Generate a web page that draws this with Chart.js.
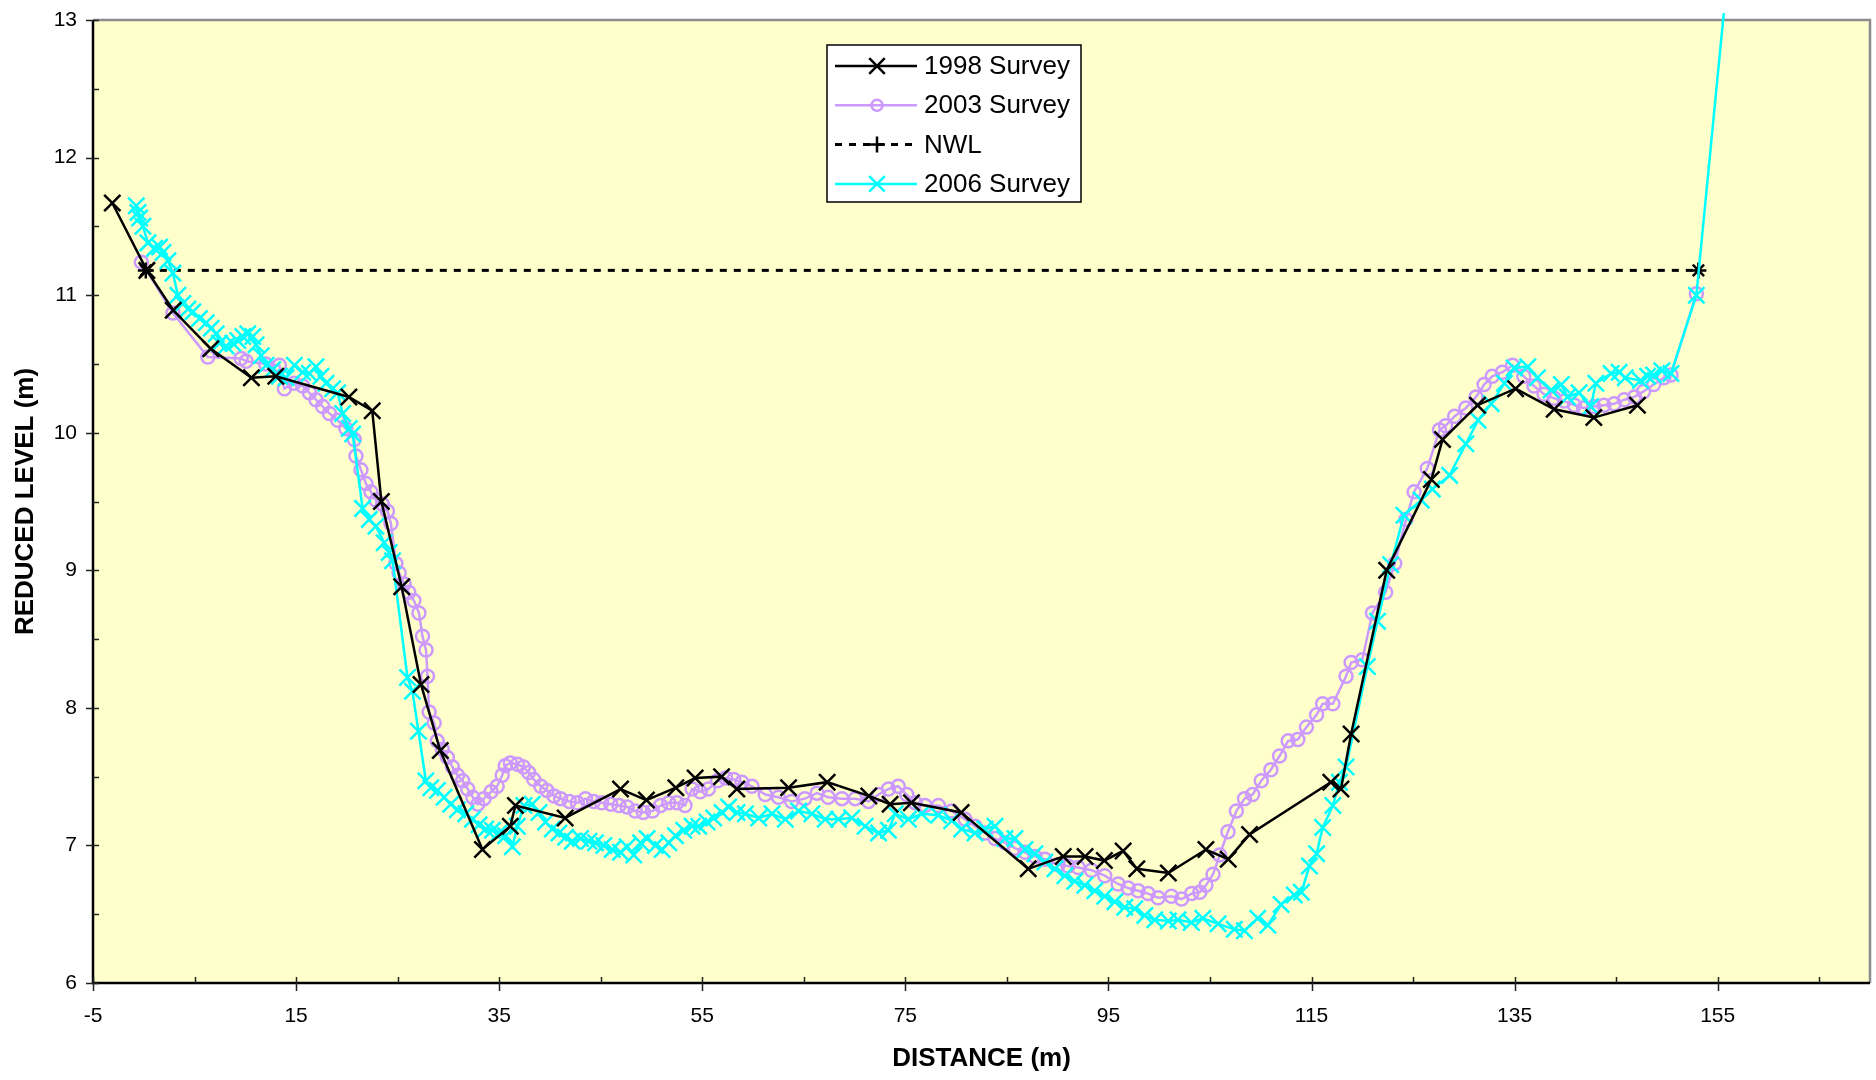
<!DOCTYPE html>
<html>
<head>
<meta charset="utf-8">
<title>Cross section surveys</title>
<script src="https://cdn.jsdelivr.net/npm/chart.js@4.4.1/dist/chart.umd.min.js"></script>
<style>
  html, body { margin: 0; padding: 0; background: #ffffff; }
  #wrap { width: 1876px; height: 1080px; }
</style>
</head>
<body>
<div id="wrap"><canvas id="chartSection" width="1876" height="1080"></canvas></div>
<script>
// [distance (m), reduced level (m)]
const SURVEY_1998 = [
  [-3.1, 11.67], [0.3, 11.18], [2.9, 10.89], [6.6, 10.61], [10.6, 10.40], [13.0, 10.41],
  [20.2, 10.26], [22.5, 10.16], [23.4, 9.50], [25.4, 8.88], [27.3, 8.17], [29.2, 7.69],
  [33.35, 6.97], [36.1, 7.14], [36.6, 7.29], [41.5, 7.20], [46.95, 7.41], [49.5, 7.33],
  [52.4, 7.42], [54.3, 7.49], [56.9, 7.50], [58.4, 7.41], [63.5, 7.42], [67.3, 7.46],
  [71.4, 7.36], [73.5, 7.30], [75.6, 7.31], [80.5, 7.24], [87.1, 6.83], [90.55, 6.92],
  [92.7, 6.92], [94.6, 6.89], [96.45, 6.96], [97.8, 6.83], [100.9, 6.80], [104.6, 6.97],
  [106.8, 6.90], [108.9, 7.08], [116.9, 7.46], [117.9, 7.41], [118.9, 7.81], [122.4, 9.00],
  [126.8, 9.66], [127.9, 9.95], [131.35, 10.20], [135.1, 10.32], [138.9, 10.17],
  [142.8, 10.11], [147.1, 10.20]
];

const SURVEY_2003 = [
  [-0.24, 11.24], [2.87, 10.87], [6.31, 10.55], [9.59, 10.54], [10.08, 10.52], [12.0, 10.50],
  [13.36, 10.49], [13.85, 10.32], [14.8, 10.36], [15.65, 10.34], [16.31, 10.29], [16.96, 10.24],
  [17.62, 10.19], [18.28, 10.14], [19.1, 10.09], [19.9, 10.03], [20.73, 9.95], [20.9, 9.83],
  [21.39, 9.73], [21.88, 9.63], [22.37, 9.57], [22.86, 9.51], [23.5, 9.48], [24.0, 9.43],
  [24.34, 9.34], [24.83, 9.05], [25.15, 8.98], [25.64, 8.90], [26.1, 8.84], [26.6, 8.78],
  [27.1, 8.69], [27.45, 8.52], [27.8, 8.42], [27.94, 8.23], [28.1, 7.97], [28.6, 7.89],
  [28.9, 7.76], [29.4, 7.70], [29.9, 7.64], [30.4, 7.57], [30.9, 7.51], [31.4, 7.47],
  [31.9, 7.41], [32.4, 7.35], [32.9, 7.30], [33.5, 7.34], [34.2, 7.39], [34.8, 7.43],
  [35.3, 7.51], [35.6, 7.58], [36.1, 7.60], [36.8, 7.59], [37.4, 7.57], [37.9, 7.53],
  [38.4, 7.48], [39.1, 7.43], [39.7, 7.40], [40.4, 7.36], [41.05, 7.34], [41.9, 7.32],
  [42.7, 7.31], [43.5, 7.34], [44.3, 7.32], [45.1, 7.31], [46.0, 7.30], [46.8, 7.29],
  [47.6, 7.28], [48.4, 7.25], [49.2, 7.24], [50.1, 7.25], [50.9, 7.29], [51.7, 7.31],
  [52.5, 7.31], [53.3, 7.29], [54.0, 7.41], [54.8, 7.39], [55.6, 7.41], [56.5, 7.47],
  [57.3, 7.49], [58.1, 7.48], [58.9, 7.46], [59.9, 7.43], [61.2, 7.37], [62.5, 7.35],
  [63.8, 7.32], [65.1, 7.34], [66.3, 7.38], [67.4, 7.35], [68.75, 7.34], [70.06, 7.34],
  [71.37, 7.32], [72.36, 7.37], [73.34, 7.41], [74.3, 7.43], [75.14, 7.37], [75.96, 7.31],
  [76.94, 7.29], [78.25, 7.29], [79.57, 7.25], [80.88, 7.19], [81.86, 7.14], [82.84, 7.09],
  [83.83, 7.05], [84.81, 7.02], [85.79, 6.98], [86.78, 6.95], [87.76, 6.92], [88.74, 6.90],
  [90.05, 6.86], [91.03, 6.85], [92.02, 6.84], [93.33, 6.82], [94.64, 6.78], [95.95, 6.72],
  [96.94, 6.69], [97.92, 6.67], [98.9, 6.65], [99.89, 6.62], [101.2, 6.63], [102.2, 6.61],
  [103.2, 6.65], [104.0, 6.66], [104.6, 6.71], [105.3, 6.79], [105.95, 6.93], [106.77, 7.10],
  [107.6, 7.25], [108.4, 7.34], [109.2, 7.37], [110.05, 7.47], [111.0, 7.55], [111.85, 7.65],
  [112.7, 7.76], [113.65, 7.77], [114.5, 7.86], [115.5, 7.95], [116.1, 8.03], [117.1, 8.03],
  [118.4, 8.23], [118.9, 8.33], [120.0, 8.35], [121.0, 8.69], [122.3, 8.84], [123.2, 9.05],
  [124.3, 9.37], [125.1, 9.57], [126.4, 9.74], [127.6, 10.02], [128.2, 10.05], [129.1, 10.12],
  [130.2, 10.18], [131.2, 10.26], [132.0, 10.35], [132.8, 10.41], [133.8, 10.44], [134.8, 10.49],
  [135.9, 10.41], [136.9, 10.34], [137.9, 10.28], [138.9, 10.25], [139.9, 10.23], [140.9, 10.20],
  [141.8, 10.18], [142.8, 10.19], [143.8, 10.20], [144.8, 10.21], [145.8, 10.24], [146.8, 10.26],
  [147.7, 10.30], [148.7, 10.35], [149.7, 10.40], [150.4, 10.42], [152.9, 11.01]
];

const NWL = [[0.2, 11.18], [153.1, 11.18]];

const SURVEY_2006 = [
  [-0.74, 11.65], [-0.57, 11.60], [-0.41, 11.56], [-0.08, 11.50], [0.41, 11.38], [1.07, 11.34],
  [1.56, 11.35], [1.89, 11.31], [2.38, 11.25], [2.87, 11.16], [3.36, 11.00], [3.85, 10.94],
  [4.35, 10.90], [4.84, 10.88], [5.49, 10.83], [6.15, 10.80], [6.64, 10.76], [7.13, 10.72],
  [7.46, 10.65], [8.11, 10.63], [8.77, 10.65], [9.26, 10.67], [9.75, 10.70], [10.24, 10.72],
  [10.74, 10.70], [11.06, 10.64], [11.56, 10.56], [12.05, 10.49], [12.70, 10.46], [13.36, 10.41],
  [14.01, 10.40], [14.83, 10.49], [15.65, 10.44], [16.31, 10.43], [16.96, 10.48], [17.45, 10.41],
  [17.95, 10.36], [18.60, 10.32], [19.09, 10.29], [19.59, 10.14], [20.24, 10.03], [20.57, 9.99],
  [21.55, 9.45], [22.21, 9.37], [22.86, 9.32], [23.68, 9.20], [24.17, 9.13], [24.5, 9.07],
  [25.97, 8.22], [26.46, 8.12], [27.05, 7.83], [27.78, 7.47], [28.27, 7.42], [28.92, 7.40],
  [29.58, 7.35], [30.23, 7.30], [30.89, 7.26], [31.71, 7.23], [32.36, 7.19], [33.02, 7.15],
  [33.67, 7.12], [34.33, 7.11], [34.99, 7.09], [35.64, 7.07], [36.3, 6.99], [36.79, 7.14],
  [37.44, 7.29], [38.26, 7.30], [38.92, 7.24], [39.57, 7.17], [40.23, 7.12], [40.89, 7.09],
  [41.54, 7.06], [42.2, 7.03], [43.02, 7.05], [43.84, 7.03], [44.49, 7.02], [45.31, 7.00],
  [46.13, 6.97], [46.95, 6.95], [47.6, 6.99], [48.26, 6.93], [48.92, 7.02], [49.57, 7.05],
  [50.39, 7.00], [51.05, 6.97], [51.7, 7.02], [52.36, 7.07], [53.18, 7.11], [54.0, 7.14],
  [54.65, 7.14], [55.47, 7.17], [56.13, 7.20], [56.95, 7.24], [57.6, 7.28], [58.42, 7.24],
  [59.25, 7.23], [60.56, 7.20], [61.87, 7.23], [63.18, 7.19], [64.49, 7.25], [65.8, 7.23],
  [67.11, 7.19], [68.42, 7.19], [69.73, 7.20], [71.04, 7.14], [72.36, 7.09], [73.34, 7.11],
  [74.0, 7.23], [75.3, 7.19], [76.6, 7.23], [78.25, 7.22], [79.57, 7.18], [80.55, 7.12],
  [81.86, 7.09], [82.84, 7.12], [83.83, 7.14], [84.81, 7.05], [85.79, 7.05], [86.78, 6.97],
  [87.76, 6.94], [88.74, 6.88], [89.73, 6.83], [90.71, 6.78], [91.69, 6.74], [92.68, 6.71],
  [93.66, 6.67], [94.64, 6.63], [95.63, 6.59], [96.61, 6.55], [97.59, 6.54], [98.58, 6.49],
  [99.56, 6.46], [100.9, 6.45], [101.85, 6.46], [103.16, 6.44], [104.3, 6.47], [105.8, 6.43],
  [107.4, 6.39], [108.4, 6.38], [109.7, 6.47], [110.7, 6.42], [112.0, 6.57], [113.3, 6.64],
  [114.0, 6.66], [114.8, 6.85], [115.5, 6.94], [116.1, 7.13], [117.1, 7.29], [117.75, 7.46],
  [118.4, 7.57], [120.5, 8.30], [121.5, 8.63], [122.8, 9.04], [124.1, 9.40], [125.8, 9.51],
  [126.9, 9.59], [128.6, 9.69], [130.2, 9.92], [131.4, 10.09], [132.7, 10.21], [134.0, 10.36],
  [134.96, 10.47], [136.3, 10.48], [137.25, 10.40], [138.6, 10.31], [139.6, 10.35], [140.2, 10.26],
  [141.35, 10.29], [142.5, 10.19], [143.0, 10.36], [144.5, 10.43], [145.3, 10.44], [145.9, 10.40],
  [147.4, 10.38], [148.1, 10.41], [148.7, 10.42], [149.5, 10.45], [150.4, 10.43], [152.9, 11.00],
  [155.6, 13.05]
];

const X_TICKS = [-5, 5, 15, 25, 35, 45, 55, 65, 75, 85, 95, 105, 115, 125, 135, 145, 155, 165];
const Y_TICKS = [6, 6.5, 7, 7.5, 8, 8.5, 9, 9.5, 10, 10.5, 11, 11.5, 12, 12.5, 13];

const X_MIN = -5, X_MAX = 170, Y_MIN = 6, Y_MAX = 13;

const FONT = "'Liberation Sans', Arial, sans-serif";
const COLORS = {
  plot: "#FFFFCC",
  frame: "#8c8c8c",
  s1998: "#000000",
  s2003: "#CC99FF",
  nwl: "#000000",
  s2006: "#00FFFF"
};

const toXY = (pairs) => pairs.map(([x, y]) => ({ x, y }));
const isMajorX = (v) => (v - X_MIN) % 20 === 0;

function drawMarker(ctx, style, x, y, r) {
  ctx.beginPath();
  if (style === "circle") {
    ctx.arc(x, y, r, 0, Math.PI * 2);
  } else {
    if (style === "cross" || style === "star") {
      ctx.moveTo(x - r, y); ctx.lineTo(x + r, y);
      ctx.moveTo(x, y - r); ctx.lineTo(x, y + r);
    }
    if (style === "crossRot" || style === "star") {
      const k = r * 0.707;
      ctx.moveTo(x - k, y - k); ctx.lineTo(x + k, y + k);
      ctx.moveTo(x - k, y + k); ctx.lineTo(x + k, y - k);
    }
  }
  ctx.stroke();
}

const plotFramePlugin = {
  id: "plotFrame",
  beforeDraw(chart) {
    const { ctx, chartArea: a } = chart;
    ctx.save();
    ctx.fillStyle = "#ffffff";
    ctx.fillRect(0, 0, chart.width, chart.height);
    ctx.fillStyle = COLORS.plot;
    ctx.fillRect(a.left, a.top, a.right - a.left, a.bottom - a.top);
    ctx.restore();
  },
  beforeDatasetsDraw(chart) {
    const { ctx, chartArea: a, scales } = chart;
    ctx.save();
    ctx.strokeStyle = COLORS.frame;
    ctx.lineWidth = 2.5;
    ctx.beginPath();
    ctx.moveTo(a.left, a.top);
    ctx.lineTo(a.right, a.top);
    ctx.lineTo(a.right, a.bottom);
    ctx.stroke();

    ctx.strokeStyle = "#000";
    ctx.lineWidth = 2.5;
    ctx.beginPath();
    ctx.moveTo(a.left, a.top);
    ctx.lineTo(a.left, a.bottom);
    ctx.lineTo(a.right, a.bottom);
    ctx.stroke();

    ctx.lineWidth = 1.5;
    ctx.strokeStyle = "#222";
    ctx.beginPath();
    scales.y.ticks.forEach((t) => {
      const py = Math.round(scales.y.getPixelForValue(t.value)) + 0.5;
      const major = Number.isInteger(t.value);
      ctx.moveTo(a.left - (major ? 7 : 0), py);
      ctx.lineTo(a.left + 6, py);
    });
    scales.x.ticks.forEach((t) => {
      const px = Math.round(scales.x.getPixelForValue(t.value)) + 0.5;
      const major = isMajorX(t.value);
      ctx.moveTo(px, a.bottom + (major ? 8 : 0));
      ctx.lineTo(px, a.bottom - 6);
    });
    ctx.stroke();
    ctx.restore();
  }
};

const legendBoxPlugin = {
  id: "legendBox",
  afterDraw(chart) {
    const { ctx, chartArea: a } = chart;
    const x0 = a.left + 734;
    const y0 = a.top + 25;
    const w = 254;
    const h = 157;
    const rowH = 39.3;

    ctx.save();
    ctx.fillStyle = "#ffffff";
    ctx.fillRect(x0, y0, w, h);
    ctx.strokeStyle = "#000";
    ctx.lineWidth = 1.5;
    ctx.strokeRect(x0, y0, w, h);

    chart.data.datasets.forEach((ds, i) => {
      const cy = y0 + 21 + i * rowH;
      ctx.strokeStyle = ds.borderColor;
      ctx.lineWidth = ds.borderWidth;
      ctx.setLineDash(ds.borderDash || []);
      ctx.beginPath();
      ctx.moveTo(x0 + 8, cy);
      ctx.lineTo(x0 + 90, cy);
      ctx.stroke();
      ctx.setLineDash([]);

      ctx.strokeStyle = ds.pointBorderColor;
      ctx.lineWidth = ds.pointBorderWidth;
      drawMarker(ctx, ds.legendMarker, x0 + 50, cy, ds.legendRadius);

      ctx.fillStyle = "#000";
      ctx.font = `26px ${FONT}`;
      ctx.textBaseline = "middle";
      ctx.textAlign = "left";
      ctx.fillText(ds.label, x0 + 97, cy + 1);
    });
    ctx.restore();
  }
};

const canvas = document.getElementById("chartSection");

new Chart(canvas, {
  type: "scatter",
  data: {
    datasets: [
      {
        label: "1998 Survey",
        data: toXY(SURVEY_1998),
        showLine: true,
        borderColor: COLORS.s1998,
        borderWidth: 2.5,
        pointStyle: "crossRot",
        pointRadius: 11.5,
        pointBorderColor: COLORS.s1998,
        pointBorderWidth: 2.5,
        pointBackgroundColor: "rgba(0,0,0,0)",
        legendMarker: "crossRot",
        legendRadius: 11,
        order: 0
      },
      {
        label: "2003 Survey",
        data: toXY(SURVEY_2003),
        showLine: true,
        borderColor: COLORS.s2003,
        borderWidth: 2.5,
        pointStyle: "circle",
        pointRadius: 6.5,
        pointBorderColor: COLORS.s2003,
        pointBorderWidth: 2.5,
        pointBackgroundColor: "rgba(0,0,0,0)",
        legendMarker: "circle",
        legendRadius: 5.5,
        order: 3
      },
      {
        label: "NWL",
        data: toXY(NWL),
        showLine: true,
        borderColor: COLORS.nwl,
        borderWidth: 3,
        borderDash: [7, 7],
        pointStyle: "star",
        pointRadius: 8,
        pointBorderColor: COLORS.nwl,
        pointBorderWidth: 2.5,
        pointBackgroundColor: "rgba(0,0,0,0)",
        legendMarker: "cross",
        legendRadius: 8,
        order: 2
      },
      {
        label: "2006 Survey",
        data: toXY(SURVEY_2006),
        showLine: true,
        borderColor: COLORS.s2006,
        borderWidth: 2.5,
        pointStyle: "crossRot",
        pointRadius: (ctx) => (ctx.raw && ctx.raw.y > Y_MAX ? 0 : 11.5),
        pointBorderColor: COLORS.s2006,
        pointBorderWidth: 2.5,
        pointBackgroundColor: "rgba(0,0,0,0)",
        legendMarker: "crossRot",
        legendRadius: 11,
        clip: false,
        order: 1
      }
    ]
  },
  options: {
    responsive: false,
    animation: false,
    events: [],
    layout: { autoPadding: false, padding: { top: 20, right: 6, left: 0, bottom: 0 } },
    plugins: {
      legend: { display: false },
      tooltip: { enabled: false }
    },
    scales: {
      x: {
        type: "linear",
        min: X_MIN,
        max: X_MAX,
        afterBuildTicks: (scale) => {
          scale.ticks = X_TICKS.map((v) => ({ value: v }));
        },
        afterFit: (scale) => {
          scale.height = 97;
          scale.paddingLeft = 0;
          scale.paddingRight = 0;
        },
        grid: { display: false, drawTicks: false },
        border: { display: false },
        ticks: {
          color: "#000",
          font: { family: FONT, size: 21 },
          padding: 21,
          maxRotation: 0,
          autoSkip: false,
          callback: (v) => (isMajorX(v) ? String(v) : "")
        },
        title: {
          display: true,
          text: "DISTANCE (m)",
          color: "#000",
          font: { family: FONT, size: 26, weight: "bold" },
          padding: { top: 0, bottom: 6 }
        }
      },
      y: {
        type: "linear",
        min: Y_MIN,
        max: Y_MAX,
        afterBuildTicks: (scale) => {
          scale.ticks = Y_TICKS.map((v) => ({ value: v }));
        },
        afterFit: (scale) => {
          scale.width = 93;
          scale.paddingTop = 0;
          scale.paddingBottom = 0;
        },
        grid: { display: false, drawTicks: false },
        border: { display: false },
        ticks: {
          color: "#000",
          font: { family: FONT, size: 21 },
          padding: 16,
          autoSkip: false,
          callback: (v) => (Number.isInteger(v) ? String(v) : "")
        },
        title: {
          display: true,
          text: "REDUCED LEVEL (m)",
          color: "#000",
          font: { family: FONT, size: 26, weight: "bold" },
          padding: { top: 10, bottom: 0 }
        }
      }
    }
  },
  plugins: [plotFramePlugin, legendBoxPlugin]
});
</script>
</body>
</html>
